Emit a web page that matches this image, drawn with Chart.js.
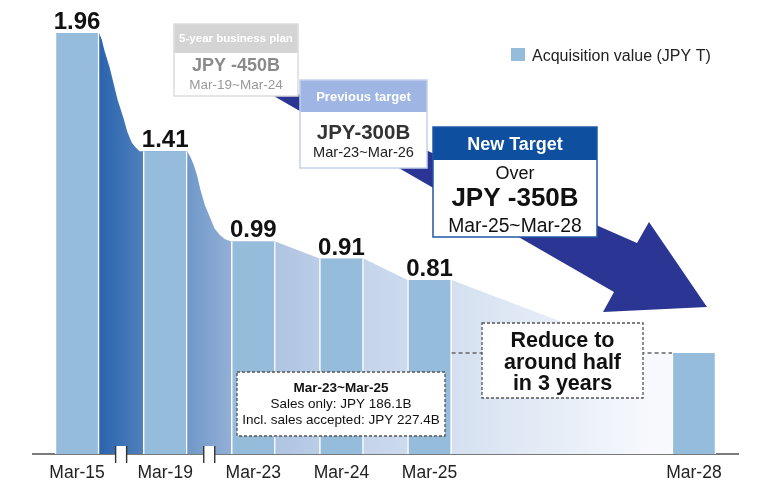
<!DOCTYPE html>
<html>
<head>
<meta charset="utf-8">
<script src="https://cdn.jsdelivr.net/npm/chart.js@4.4.1/dist/chart.umd.min.js"></script>
<style>
  html, body { margin: 0; padding: 0; background: #fff; }
  #wrap { position: relative; width: 780px; height: 495px; }
</style>
</head>
<body>
<div id="wrap"><canvas id="chart"></canvas></div>
<script>
// acquisition value, JPY trillion
const categories = ['Mar-15', 'Mar-19', 'Mar-23', 'Mar-24', 'Mar-25', 'Mar-28'];
const slots = [0, 1, 2, 3, 4, 7];          // Mar-25 -> Mar-28 spans three slots
const values = [1.96, 1.41, 0.99, 0.91, 0.81, 0.47];
const valueLabels = ['1.96', '1.41', '0.99', '0.91', '0.81', ''];

// outline of the shaded band running between the bars
const bandX = [0.25, 0.28, 0.31, 0.37, 0.46, 0.53, 0.57, 0.62, 0.66, 0.71, 0.75,
               1.25, 1.29, 1.32, 1.36, 1.40, 1.45, 1.51, 1.56, 1.62, 1.68, 1.75,
               2.25, 2.50, 2.75, 3.25, 3.50, 3.75, 4.25, 6.43, 6.75];
const bandY = [1.96, 1.93, 1.88, 1.80, 1.65, 1.56, 1.50, 1.45, 1.43, 1.41, 1.41,
               1.41, 1.38, 1.35, 1.30, 1.23, 1.16, 1.10, 1.05, 1.02, 1.00, 0.99,
               0.99, 0.95, 0.91, 0.91, 0.86, 0.81, 0.81, 0.47, 0.47];

const FONT = '"Liberation Sans", Arial, Helvetica, sans-serif';
const BAR = '#95bcdb';

// colour stops of the band, keyed by x position
const bandStops = [[0.25, '#2b64ad'], [0.75, '#4e80bb'], [1.25, '#6f98c8'], [1.75, '#93afd7'],
                   [2.25, '#afc4e2'], [2.75, '#bacde6'], [3.25, '#c4d4ea'], [3.75, '#ccdaee'],
                   [4.25, '#d4e0f0'], [6.5, '#f7f9fd']];

function bandFill(context) {
  const chart = context.chart;
  const x = chart.scales.x;
  if (!chart.chartArea || !x) return '#c4d4ea';
  const left = x.getPixelForValue(bandStops[0][0]);
  const right = x.getPixelForValue(bandStops[bandStops.length - 1][0]);
  const g = chart.ctx.createLinearGradient(left, 0, right, 0);
  bandStops.forEach(([v, c]) => g.addColorStop((x.getPixelForValue(v) - left) / (right - left), c));
  return g;
}

function text(ctx, str, cx, cy, size, weight, color, align) {
  ctx.font = (weight || 'normal') + ' ' + size + 'px ' + FONT;
  ctx.fillStyle = color;
  ctx.textAlign = align || 'center';
  ctx.textBaseline = 'alphabetic';
  ctx.fillText(str, cx, cy + size * 0.36);
}

function headedBox(ctx, b) {
  ctx.fillStyle = '#fff';
  ctx.fillRect(b.x, b.y, b.w, b.h);
  ctx.fillStyle = b.head;
  ctx.fillRect(b.x, b.y, b.w, b.hh);
  ctx.strokeStyle = b.border;
  ctx.lineWidth = b.lw;
  ctx.setLineDash([]);
  ctx.strokeRect(b.x, b.y, b.w, b.h);
}

function dashedBox(ctx, x0, y0, x1, y1) {
  ctx.fillStyle = '#fff';
  ctx.fillRect(x0, y0, x1 - x0, y1 - y0);
  ctx.strokeStyle = '#555';
  ctx.lineWidth = 1.3;
  ctx.setLineDash([3, 2]);
  ctx.strokeRect(x0, y0, x1 - x0, y1 - y0);
  ctx.setLineDash([]);
}

const annotations = {
  id: 'annotations',
  afterDraw(chart) {
    const { ctx, scales: { x, y } } = chart;
    const bars = chart.getDatasetMeta(0).data;
    const base = y.getPixelForValue(0);
    ctx.save();

    // axis breaks
    [0.5, 1.5].forEach(v => {
      const cx = x.getPixelForValue(v);
      ctx.fillStyle = '#fff';
      ctx.fillRect(cx - 5.5, base - 8, 11, 17);
      ctx.strokeStyle = '#333';
      ctx.lineWidth = 1.4;
      ctx.beginPath();
      ctx.moveTo(cx - 5.5, base - 8); ctx.lineTo(cx - 5.5, base + 9);
      ctx.moveTo(cx + 5.5, base - 8); ctx.lineTo(cx + 5.5, base + 9);
      ctx.stroke();
    });

    // value labels
    bars.forEach((bar, i) => {
      if (!valueLabels[i]) return;
      ctx.font = 'bold 24px ' + FONT;
      ctx.fillStyle = '#111';
      ctx.textAlign = 'center';
      ctx.textBaseline = 'alphabetic';
      ctx.fillText(valueLabels[i], bar.x, bar.y - 4);
    });

    // big arrow
    ctx.fillStyle = '#2b3593';
    ctx.beginPath();
    ctx.moveTo(180, 42);
    ctx.lineTo(637, 243);
    ctx.lineTo(649, 222);
    ctx.lineTo(707, 307);
    ctx.lineTo(603, 312);
    ctx.lineTo(614, 292);
    ctx.closePath();
    ctx.fill();

    // plan boxes
    headedBox(ctx, { x: 174, y: 24, w: 124, h: 72, hh: 29, head: '#d4d4d4', border: '#dcdcdc', lw: 1.5 });
    text(ctx, '5-year business plan', 236, 38, 11.5, 'bold', '#fff');
    text(ctx, 'JPY -450B', 236, 65, 18, 'bold', '#8a8a8a');
    text(ctx, 'Mar-19~Mar-24', 236, 84, 13.5, 'normal', '#999');

    headedBox(ctx, { x: 300, y: 80, w: 127, h: 88, hh: 32, head: '#9fb5e4', border: '#c3d0ee', lw: 1.5 });
    text(ctx, 'Previous target', 363.5, 96, 13, 'bold', '#fff');
    text(ctx, 'JPY-300B', 363.5, 132, 20.5, 'bold', '#333');
    text(ctx, 'Mar-23~Mar-26', 363.5, 152, 14.6, 'normal', '#222');

    headedBox(ctx, { x: 433, y: 127, w: 164, h: 110, hh: 33, head: '#0f4f9f', border: '#1f58a6', lw: 1.5 });
    text(ctx, 'New Target', 515, 143.5, 18, 'bold', '#fff');
    text(ctx, 'Over', 515, 173, 18, 'normal', '#111');
    text(ctx, 'JPY -350B', 515, 197, 26, 'bold', '#111');
    text(ctx, 'Mar-25~Mar-28', 515, 225, 19.3, 'normal', '#111');

    // dashed level of the Mar-28 target
    const tgt = bars[5], last = bars[4];
    const ty = tgt.y;
    ctx.strokeStyle = '#666';
    ctx.lineWidth = 1.5;
    ctx.setLineDash([4, 3]);
    ctx.beginPath();
    ctx.moveTo(last.x + last.width / 2, ty);
    ctx.lineTo(tgt.x - tgt.width / 2, ty);
    ctx.stroke();
    ctx.setLineDash([]);

    dashedBox(ctx, 482, 323, 643, 398);
    ctx.font = 'bold 21.5px ' + FONT;
    ctx.fillStyle = '#111';
    ctx.textAlign = 'center';
    ctx.textBaseline = 'alphabetic';
    ctx.fillText('Reduce to', 562.5, 347);
    ctx.fillText('around half', 562.5, 368.5);
    ctx.fillText('in 3 years', 562.5, 390);

    // note box
    dashedBox(ctx, 237, 372, 445, 436);
    text(ctx, 'Mar-23~Mar-25', 341, 387, 13.5, 'bold', '#111');
    text(ctx, 'Sales only: JPY 186.1B', 341, 403, 13.5, 'normal', '#111');
    text(ctx, 'Incl. sales accepted: JPY 227.4B', 341, 419, 13.5, 'normal', '#111');

    // legend
    ctx.fillStyle = BAR;
    ctx.fillRect(511, 48, 14, 13);
    text(ctx, 'Acquisition value (JPY T)', 532, 55, 16, 'normal', '#222', 'left');

    ctx.restore();
  }
};

Chart.defaults.font.family = FONT;

new Chart(document.getElementById('chart'), {
  type: 'bar',
  data: {
    datasets: [
      {
        type: 'bar',
        label: 'Acquisition value (JPY T)',
        data: slots.map((s, i) => ({ x: s, y: values[i] })),
        backgroundColor: BAR,
        borderColor: '#fff',
        borderWidth: { left: 1.5, right: 1.5, top: 0, bottom: 0 },
        borderSkipped: false,
        barThickness: 44,
        order: 0
      },
      {
        type: 'line',
        label: 'band',
        data: bandX.map((v, i) => ({ x: v, y: bandY[i] })),
        backgroundColor: bandFill,
        borderWidth: 0,
        pointRadius: 0,
        fill: 'origin',
        tension: 0,
        order: 1
      }
    ]
  },
  options: {
    responsive: true,
    maintainAspectRatio: false,
    animation: false,
    layout: { padding: { left: 33, right: 42, top: 3, bottom: 2 } },
    plugins: { legend: { display: false }, tooltip: { enabled: false } },
    scales: {
      x: {
        type: 'linear',
        offset: false,
        min: -0.5,
        max: 7.5,
        grid: { display: false, drawTicks: false },
        border: { display: true, color: '#7a7a7a', width: 2 },
        afterBuildTicks: axis => { axis.ticks = slots.map(v => ({ value: v })); },
        ticks: {
          autoSkip: false,
          maxRotation: 0,
          padding: 9,
          color: '#222',
          font: { size: 17.5 },
          callback: v => categories[slots.indexOf(v)] || ''
        }
      },
      y: {
        display: false,
        min: 0,
        max: 2.1
      }
    }
  },
  plugins: [annotations]
});
</script>
</body>
</html>
